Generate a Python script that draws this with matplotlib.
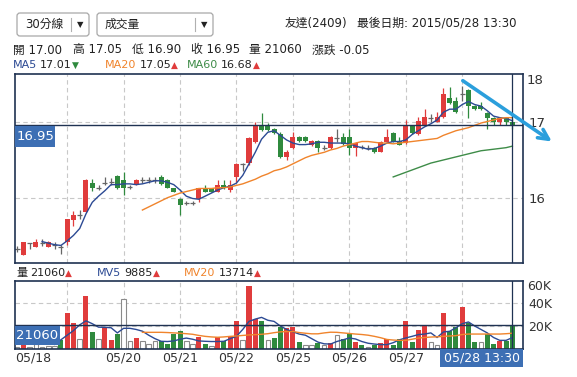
import numpy as np
import matplotlib
matplotlib.use("Agg")
import matplotlib.pyplot as plt
from matplotlib.patches import Rectangle, FancyBboxPatch
from matplotlib.transforms import Affine2D, offset_copy

plt.rcParams['font.family'] = ['DejaVu Sans', 'Noto Sans CJK TC']

# 30-min bars, 05/18 10:00 .. 05/28 13:30 (first bar of 05/18 scrolled out)
OPEN = [15.34, 15.27, 15.42, 15.37, 15.42, 15.37, 15.40, 15.37, 15.43, 15.72,
        15.79, 15.83, 16.20, 16.14, 16.20, 16.21, 16.29, 16.24, 16.15, 16.18,
        16.24, 16.24, 16.24, 16.28, 16.24, 16.13, 15.99, 15.94, 15.94, 15.99,
        16.13, 16.13, 16.09, 16.18, 16.11, 16.28, 16.45, 16.46, 16.74, 16.94,
        16.94, 16.90, 16.84, 16.54, 16.65, 16.80, 16.80, 16.69, 16.75, 16.66,
        16.65, 16.78, 16.80, 16.80, 16.65, 16.67, 16.66, 16.66, 16.61, 16.74,
        16.85, 16.75, 16.72, 16.95, 16.84, 16.95, 17.05, 17.00, 17.06, 17.30,
        17.26, 17.36, 17.41, 17.20, 17.20, 17.11, 17.05, 17.00, 17.05, 17.00]
HIGH = [15.38, 15.44, 15.42, 15.47, 15.47, 15.45, 15.43, 15.40, 15.74, 15.84,
        15.85, 16.25, 16.25, 16.17, 16.28, 16.27, 16.30, 16.34, 16.18, 16.25,
        16.28, 16.28, 16.28, 16.30, 16.25, 16.14, 16.00, 15.97, 15.97, 16.14,
        16.18, 16.14, 16.24, 16.24, 16.24, 16.46, 16.46, 16.80, 17.00, 17.11,
        16.98, 16.91, 16.86, 16.63, 16.86, 16.81, 16.81, 16.76, 16.76, 16.70,
        16.81, 16.90, 16.85, 16.90, 16.73, 16.70, 16.69, 16.67, 16.75, 16.90,
        16.86, 16.80, 17.02, 16.96, 17.06, 17.16, 17.10, 17.12, 17.43, 17.45,
        17.32, 17.46, 17.42, 17.21, 17.25, 17.12, 17.06, 17.06, 17.06, 17.05]
LOW = [15.30, 15.26, 15.35, 15.37, 15.38, 15.37, 15.35, 15.28, 15.40, 15.64,
       15.73, 15.82, 16.10, 16.11, 16.17, 16.18, 16.12, 16.05, 16.12, 16.17,
       16.20, 16.20, 16.20, 16.18, 16.13, 16.08, 15.79, 15.91, 15.91, 15.95,
       16.08, 16.08, 16.08, 16.12, 16.08, 16.22, 16.36, 16.44, 16.72, 16.88,
       16.88, 16.84, 16.52, 16.50, 16.64, 16.74, 16.74, 16.68, 16.60, 16.63,
       16.64, 16.73, 16.70, 16.56, 16.55, 16.64, 16.63, 16.59, 16.60, 16.73,
       16.73, 16.69, 16.71, 16.84, 16.83, 16.94, 17.00, 16.99, 17.05, 17.23,
       17.11, 17.27, 17.05, 17.15, 17.15, 16.90, 16.95, 16.96, 16.96, 16.90]
CLOSE = [15.34, 15.43, 15.42, 15.43, 15.42, 15.43, 15.40, 15.37, 15.73, 15.79,
         15.79, 16.24, 16.13, 16.14, 16.20, 16.21, 16.13, 16.14, 16.15, 16.24,
         16.24, 16.24, 16.24, 16.19, 16.14, 16.09, 15.92, 15.94, 15.94, 16.13,
         16.09, 16.09, 16.18, 16.13, 16.18, 16.45, 16.45, 16.79, 16.94, 16.89,
         16.89, 16.85, 16.54, 16.61, 16.80, 16.75, 16.75, 16.75, 16.65, 16.66,
         16.80, 16.78, 16.71, 16.65, 16.72, 16.67, 16.66, 16.60, 16.74, 16.80,
         16.74, 16.70, 16.95, 16.85, 17.01, 17.06, 17.05, 17.06, 17.36, 17.24,
         17.12, 17.36, 17.20, 17.16, 17.16, 17.05, 17.00, 17.05, 17.00, 16.95]

MA5_START = 4
MA5 = [15.44, 15.42, 15.40, 15.39, 15.45, 15.52, 15.61, 15.80, 15.95, 16.03,
       16.10, 16.18, 16.18, 16.19, 16.19, 16.18, 16.19, 16.21, 16.23, 16.23,
       16.21, 16.18, 16.11, 16.03, 16.00, 15.99, 16.03, 16.07, 16.11, 16.14,
       16.16, 16.20, 16.30, 16.45, 16.60, 16.77, 16.86, 16.88, 16.82, 16.76,
       16.72, 16.70, 16.70, 16.71, 16.73, 16.73, 16.72, 16.72, 16.72, 16.71,
       16.68, 16.66, 16.64, 16.65, 16.68, 16.72, 16.74, 16.74, 16.76, 16.83,
       16.88, 16.93, 16.97, 17.02, 17.12, 17.16, 17.16, 17.22, 17.26, 17.22,
       17.20, 17.14, 17.07, 17.05, 17.04, 17.01]
MA20_START = 20
MA20 = [15.85, 15.89, 15.93, 15.97, 16.01, 16.04, 16.07, 16.09, 16.11, 16.13,
        16.13, 16.13, 16.14, 16.14, 16.15, 16.17, 16.19, 16.22, 16.25, 16.29,
        16.32, 16.36, 16.38, 16.41, 16.45, 16.49, 16.53, 16.56, 16.58, 16.60,
        16.63, 16.65, 16.68, 16.70, 16.72, 16.74, 16.74, 16.73, 16.72, 16.72,
        16.71, 16.72, 16.73, 16.74, 16.75, 16.76, 16.77, 16.78, 16.82, 16.85,
        16.88, 16.90, 16.92, 16.95, 16.98, 17.00, 17.02, 17.04, 17.05, 17.05]
MA60_START = 60
MA60 = [16.28, 16.31, 16.34, 16.37, 16.40, 16.43, 16.46, 16.48, 16.50, 16.52,
        16.54, 16.56, 16.58, 16.60, 16.62, 16.63, 16.64, 16.65, 16.66, 16.68]

VOLUME = [1800, 5000, 2000, 4000, 2000, 3000, 2500, 8000, 31000, 22600,
          8700, 46000, 14800, 8700, 18800, 8000, 13300, 43500, 6700, 9600,
          7200, 4300, 6700, 6700, 4300, 13000, 16000, 6700, 4300, 10000,
          4300, 2300, 10000, 6700, 11000, 24000, 8000, 55000, 26000, 24500,
          7500, 9500, 19000, 18200, 18800, 6000, 3800, 3800, 5200, 3200,
          5200, 11900, 8700, 13000, 6000, 3200, 1700, 3800, 5200, 8700,
          3800, 8700, 24000, 6000, 16800, 20300, 6000, 3200, 31300, 15400,
          19100, 36200, 22600, 6000, 6000, 13000, 4300, 6700, 6700, 21060]
VOL_COLOR = "wrwwwwwgrrwrgwrrgwwrwwwggggwwrgwrgrrwrrgwggrrgwwgwrwggrgwgrrggrgrrwwrggrggwggrgg"
MV5_START = 6
MV5 = [4000, 8000, 12000, 16000, 21000, 24500, 22000, 19000, 18800, 18500,
       14000, 18000, 18000, 17000, 15500, 12000, 9000, 6700, 6500, 7000,
       8500, 9500, 8500, 7000, 6700, 6500, 6500, 6700, 9000, 11000,
       17000, 24000, 26000, 27500, 25000, 24000, 20000, 17000, 15000, 13000,
       12000, 9000, 6000, 4500, 4300, 6500, 8000, 9600, 8700, 6500,
       5000, 4300, 3800, 3800, 5500, 8000, 9600, 11000, 12500, 13000,
       14000, 10000, 14800, 15400, 18500, 22000, 23500, 20000, 17000, 14000,
       10000, 7500, 7500, 9885]
MV20_START = 20
MV20 = [14500, 14500, 14500, 14500, 14300, 14000, 13700, 13300, 12800, 11800,
        11000, 10500, 10200, 10500, 11000, 11300, 11800, 12200, 12500, 12800,
        13300, 14200, 14900, 15200, 15200, 14300, 13700, 13200, 13200, 14000,
        14600, 14500, 14000, 13500, 13000, 12600, 12000, 11000, 9800, 8300,
        7800, 7500, 7500, 8500, 9500, 10000, 10400, 10600, 11000, 11300,
        11600, 12600, 13000, 13000, 13000, 13000, 13000, 13000, 13300, 13714]

DAY_START = [17, 26, 35, 44, 53, 62, 71]
DAY_LABEL = ["05/20", "05/21", "05/22", "05/25", "05/26", "05/27", "05/28"]
PRICE_TICKS = [16, 17]
VOL_TICKS = [20000, 40000]

RED, GREEN, DOJI = "#e03c3c", "#2f8a3e", "#666666"
NAVY, BOXBLUE = "#1f3252", "#3d6fb4"
C_MA5, C_MA20, C_MA60 = "#2c4a94", "#f0842c", "#3e8c48"
GRID = "#c8c8c8"
INK = "#222222"

W, H = 577, 377


def rect(left, top, right, bottom):
    return [left / W, 1 - bottom / H, (right - left) / W, (bottom - top) / H]


def main():
    fig = plt.figure(figsize=(W / 100, H / 100), dpi=100)
    px = Affine2D().scale(0.01) + fig.dpi_scale_trans   # pixel coords from bottom-left
    renderer = fig.canvas.get_renderer()

    def txt(x, y, s, color=INK, size=8.5, ha="left", **kw):
        return fig.text(x, H - y, s, transform=px, color=color, fontsize=size,
                        ha=ha, va="center", **kw)

    def run(x, y, parts, size=8):
        # draw coloured pieces one after another on a line
        for s, color, gap in parts:
            sz = 6.5 if s in ("▲", "▼") else size
            t = txt(x, y + (0.5 if sz != size else 0), s, color=color, size=sz)
            x += t.get_window_extent(renderer=renderer).width + gap

    def box(x0, y0, x1, y1, **kw):
        fig.add_artist(Rectangle((x0, H - y1), x1 - x0, y1 - y0, transform=px, **kw))

    ax = fig.add_axes(rect(15, 74, 523, 263))
    axv = fig.add_axes(rect(15, 281, 523, 349), sharex=ax)
    n = len(CLOSE)
    x = np.arange(n)

    # ---- price panel
    for xi in DAY_START + [8]:
        ax.axvline(xi, color=GRID, lw=0.8, ls=(0, (4, 3)), zorder=0)
        axv.axvline(xi, color=GRID, lw=0.8, ls=(0, (4, 3)), zorder=0)
    for p in PRICE_TICKS:
        ax.axhline(p, color=GRID, lw=0.8, ls=(0, (4, 3)), zorder=0)

    bw = 0.8
    for i in x:
        o, h, l, c = OPEN[i], HIGH[i], LOW[i], CLOSE[i]
        if abs(c - o) < 1e-9:
            ax.vlines(i, l, h, color=DOJI, lw=0.9, zorder=2)
            ax.hlines(c, i - bw / 2, i + bw / 2, color=DOJI, lw=0.9, zorder=2)
            continue
        col = RED if c > o else GREEN
        ax.vlines(i, l, h, color=col, lw=0.9, zorder=2)
        ax.bar(i, abs(c - o), bottom=min(o, c), width=bw, color=col, lw=0, zorder=3)

    ax.plot(np.arange(MA5_START, MA5_START + len(MA5)), MA5, color=C_MA5, lw=1.0, zorder=4)
    ax.plot(np.arange(MA20_START, MA20_START + len(MA20)), MA20, color=C_MA20, lw=1.0, zorder=4)
    ax.plot(np.arange(MA60_START, MA60_START + len(MA60)), MA60, color=C_MA60, lw=1.0, zorder=4)

    last = n - 1
    ax.axhline(CLOSE[last], color=NAVY, lw=1.0, zorder=5)
    ax.axvline(last, color=NAVY, lw=0.9, zorder=5)
    axv.axvline(last, color=NAVY, lw=0.9, zorder=5)

    ax.set_xlim(-0.32, 80.7)
    ax.set_ylim(15.162, 17.617)
    ax.yaxis.tick_right()
    ax.set_yticks(PRICE_TICKS)
    ax.set_yticklabels([str(p) for p in PRICE_TICKS])
    ax.tick_params(axis="y", length=0, pad=4, labelsize=9.5, labelcolor="#333333")
    ax.tick_params(axis="x", length=0, labelbottom=False)
    ax.text(1.0, 0.968, "18", transform=offset_copy(ax.transAxes, fig, x=4, units="dots"),
            fontsize=9.5, color="#333333", va="center", ha="left")

    ax.annotate("", xy=(85.3, 16.74), xytext=(71.1, 17.53),
                arrowprops=dict(arrowstyle="->", color="#2b9fdc", lw=2.6,
                                mutation_scale=18, shrinkA=0, shrinkB=0),
                annotation_clip=False, zorder=6)

    # ---- volume panel
    cmap = {"r": RED, "g": GREEN}
    for i in x:
        k = VOL_COLOR[i]
        if k == "w":
            axv.bar(i, VOLUME[i], width=0.72, facecolor="white", edgecolor="#8a8a8a",
                    lw=0.8, zorder=2)
        else:
            axv.bar(i, VOLUME[i], width=0.8, color=cmap[k], lw=0, zorder=2)
    for v in VOL_TICKS:
        axv.axhline(v, color=GRID, lw=0.8, ls=(0, (4, 3)), zorder=0)
    axv.plot(np.arange(MV5_START, MV5_START + len(MV5)), MV5, color=C_MA5, lw=1.0, zorder=4)
    axv.plot(np.arange(MV20_START, MV20_START + len(MV20)), MV20, color=C_MA20, lw=1.0, zorder=4)
    axv.axhline(VOLUME[last], color=NAVY, lw=1.0, zorder=5)

    axv.set_ylim(0, 59130)
    axv.yaxis.tick_right()
    axv.set_yticks(VOL_TICKS)
    axv.set_yticklabels([f"{v // 1000}K" for v in VOL_TICKS])
    axv.tick_params(axis="y", length=0, pad=4, labelsize=9, labelcolor="#333333")
    axv.text(1.0, 0.92, "60K", transform=offset_copy(axv.transAxes, fig, x=4, units="dots"),
             fontsize=9, color="#333333", va="center", ha="left")
    axv.set_xticks(DAY_START[:-1])
    axv.set_xticklabels(DAY_LABEL[:-1])
    axv.tick_params(axis="x", length=0, pad=2, labelsize=9, labelcolor="#333333")

    for a in (ax, axv):
        for s in a.spines.values():
            s.set_color(NAVY)
            s.set_linewidth(1.2)

    # ---- value boxes
    box(15, 126, 55, 147, facecolor=BOXBLUE, edgecolor="none", zorder=10)
    txt(35, 136.5, f"{CLOSE[last]:.2f}", color="white", size=9.5, ha="center", zorder=11)
    box(15, 326, 60, 345, facecolor=BOXBLUE, edgecolor="none", zorder=10)
    txt(37.5, 335.5, f"{VOLUME[last]}", color="white", size=9.5, ha="center", zorder=11)
    box(440, 349, 523, 367, facecolor=BOXBLUE, edgecolor="none", zorder=10)
    txt(481.5, 358, "05/28 13:30", color="white", size=9, ha="center", zorder=11)
    txt(15, 358, "05/18", color="#333333", size=9)

    # ---- header
    for x0, x1, sep, label in [(17, 89, 71, "30分線"), (97, 213, 195, "成交量")]:
        fig.add_artist(FancyBboxPatch((x0, H - 36), x1 - x0, 23, transform=px,
                                      boxstyle="round,pad=0,rounding_size=3",
                                      facecolor="white", edgecolor="#a8a8a8", lw=0.9))
        fig.add_artist(plt.Line2D([sep, sep], [H - 31, H - 18], transform=px,
                                  color="#b0b0b0", lw=0.8))
        txt(x0 + 8, 24, label, size=8.5)
        txt(sep + 9, 24.5, "▼", size=6, ha="center")
    txt(285, 23, "友達(2409)", size=8.5)
    txt(357, 23, "最後日期: 2015/05/28 13:30", size=8.5)

    for xpos, s in [(13, "開 17.00"), (73, "高 17.05"), (132, "低 16.90"),
                    (191, "收 16.95"), (249, "量 21060"), (312, "漲跌 -0.05")]:
        txt(xpos, 50, s, size=8.5)

    run(13, 65, [("MA5", C_MA5, 3), ("17.01", INK, 0), ("▼", GREEN, 0)])
    run(105, 65, [("MA20", C_MA20, 3), ("17.05", INK, 0), ("▲", RED, 0)])
    run(187, 65, [("MA60", C_MA60, 3), ("16.68", INK, 0), ("▲", RED, 0)])

    run(16, 273, [("量", INK, 3), ("21060", INK, 0), ("▲", RED, 0)])
    run(97, 273, [("MV5", C_MA5, 3), ("9885", INK, 0), ("▲", RED, 0)])
    run(184, 273, [("MV20", C_MA20, 3), ("13714", INK, 0), ("▲", RED, 0)])

    fig.savefig("out.png", dpi=100, facecolor="white")


if __name__ == "__main__":
    main()
